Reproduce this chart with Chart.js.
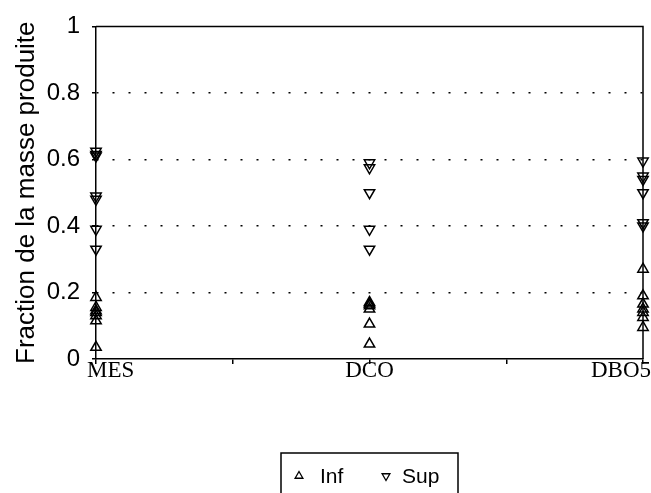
<!DOCTYPE html>
<html><head><meta charset="utf-8">
<script src="https://cdn.jsdelivr.net/npm/chart.js@4/dist/chart.umd.min.js"></script>
<style>html,body{margin:0;padding:0;background:#fff;}#wrap{width:651px;height:493px;position:relative;}</style>
</head><body><div id="wrap"><canvas id="c" width="651" height="493"></canvas></div>
<script>
// ---- data ----
const categories = ['MES', 'DCO', 'DBO5'];
const seriesNames = ['Inf', 'Sup'];
const yTickLabels = ['0', '0.2', '0.4', '0.6', '0.8', '1'];

const infMES  = [0.185, 0.155, 0.145, 0.14, 0.13, 0.115, 0.035];
const infDCO  = [0.17, 0.165, 0.16, 0.15, 0.105, 0.045];
const infDBO5 = [0.27, 0.19, 0.165, 0.15, 0.14, 0.125, 0.095];

const supMES  = [0.625, 0.615, 0.61, 0.49, 0.48, 0.39, 0.33];
const supDCO  = [0.59, 0.575, 0.50, 0.39, 0.33];
const supDBO5 = [0.595, 0.55, 0.54, 0.50, 0.41, 0.40];

// ---- build ----
const toPoints = (lists) => lists.flatMap((arr, i) => arr.map(v => ({x: i, y: v})));
const infPoints = toPoints([infMES, infDCO, infDBO5]);
const supPoints = toPoints([supMES, supDCO, supDBO5]);

const decor = {
  id: 'decor',
  afterDraw(chart) {
    const {ctx, chartArea: a, scales} = chart;
    ctx.save();
    // top + right frame
    ctx.strokeStyle = '#000';
    ctx.lineWidth = 1.5;
    ctx.beginPath();
    ctx.moveTo(a.left, a.top);
    ctx.lineTo(a.right, a.top);
    ctx.lineTo(a.right, a.bottom);
    ctx.stroke();

    // x category labels
    ctx.fillStyle = '#000';
    ctx.font = '23px "Liberation Serif", "Times New Roman", serif';
    ctx.textBaseline = 'alphabetic';
    categories.forEach((c, i) => {
      const px = scales.x.getPixelForValue(i);
      if (i === 0) { ctx.textAlign = 'left'; ctx.fillText(c, px - 9, 377); }
      else if (i === categories.length - 1) { ctx.textAlign = 'right'; ctx.fillText(c, chart.width, 377); }
      else { ctx.textAlign = 'center'; ctx.fillText(c, px, 377); }
    });

    // y axis title
    ctx.save();
    ctx.font = '26px "Liberation Sans", Arial, sans-serif';
    ctx.translate(34, (a.top + a.bottom) / 2);
    ctx.rotate(-Math.PI / 2);
    ctx.textAlign = 'center';
    ctx.textBaseline = 'alphabetic';
    ctx.fillText('Fraction de la masse produite', 0, 0);
    ctx.restore();

    // legend
    ctx.lineWidth = 1.5;
    ctx.strokeStyle = '#000';
    ctx.beginPath();
    ctx.moveTo(281, 500); ctx.lineTo(281, 453); ctx.lineTo(458, 453); ctx.lineTo(458, 500);
    ctx.stroke();
    ctx.font = '21px "Liberation Sans", Arial, sans-serif';
    ctx.textAlign = 'left';
    ctx.textBaseline = 'alphabetic';
    const items = [{x: 299, tx: 320, rot: 0}, {x: 386, tx: 402, rot: 180}];
    chart.data.datasets.forEach((ds, i) => {
      const it = items[i];
      ctx.fillStyle = 'rgba(0,0,0,0)';
      ctx.strokeStyle = '#000';
      ctx.lineWidth = 1.3;
      Chart.helpers.drawPoint(ctx, {pointStyle: 'triangle', rotation: it.rot, radius: 4.5, borderWidth: 1.3}, it.x, 476);
      ctx.fillStyle = '#000';
      ctx.fillText(ds.label, it.tx, 483);
    });
    ctx.restore();
  }
};

const common = {
  showLine: false,
  pointStyle: 'triangle',
  pointRadius: 6,
  pointHoverRadius: 6,
  pointBorderWidth: 1.5,
  borderColor: '#000',
  backgroundColor: 'rgba(0,0,0,0)',
  pointBackgroundColor: 'rgba(0,0,0,0)',
  clip: false
};

new Chart(document.getElementById('c'), {
  type: 'scatter',
  data: {
    datasets: [
      Object.assign({label: seriesNames[0], data: infPoints, pointRotation: 0}, common),
      Object.assign({label: seriesNames[1], data: supPoints, pointRotation: 180}, common)
    ]
  },
  options: {
    responsive: false,
    animation: false,
    devicePixelRatio: 1,
    layout: {padding: {left: 0, top: 19, right: 8, bottom: 0}},
    plugins: {legend: {display: false}, tooltip: {enabled: false}},
    scales: {
      x: {
        type: 'linear', min: 0, max: categories.length - 1, position: 'bottom',
        ticks: {stepSize: 0.5, callback: () => '', font: {size: 1}},
        grid: {drawOnChartArea: false, tickLength: 5, tickColor: '#000', lineWidth: 1.5},
        border: {color: '#000', width: 1.5},
        afterFit: s => { s.height = 134; }
      },
      y: {
        min: 0, max: 1,
        ticks: {
          stepSize: 0.2,
          callback: (v, i) => yTickLabels[i],
          font: {family: '"Liberation Sans", Arial, sans-serif', size: 24},
          color: '#000',
          padding: 12
        },
        grid: {
          color: c => (c.tick && (c.tick.value === 0 || c.tick.value === 1)) ? 'rgba(0,0,0,0)' : '#000',
          lineWidth: 1.5, tickLength: 4, tickColor: '#000', tickBorderDash: []
        },
        border: {color: '#000', width: 1.5, dash: [2, 14]},
        afterFit: s => { s.width = 96; }
      }
    }
  },
  plugins: [decor]
});
</script>
</body></html>
